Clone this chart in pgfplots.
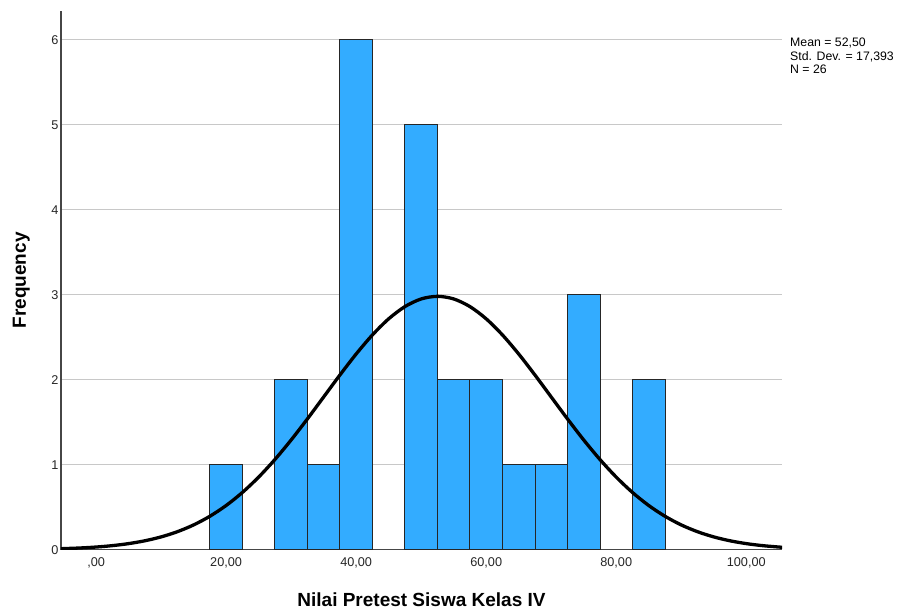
\documentclass[border=0pt]{standalone}
\usepackage{pgfplots}
\pgfplotsset{compat=1.18}
\usepackage{fontspec}
\setmainfont{Liberation Sans}
\definecolor{barblue}{RGB}{51,172,255}
\definecolor{gridgray}{RGB}{200,200,200}
\definecolor{axgray}{RGB}{70,70,70}
\begin{document}
\begin{tikzpicture}
\begin{axis}[
  at={(0,0)}, anchor=south west,
  scale only axis,
  width=721pt, height=538.7pt,
  xmin=-5.4, xmax=105.5,
  ymin=0, ymax=6.34,
  axis lines*=left,
  axis line style={axgray, line width=1.2pt},
  xtick={0,20,40,60,80,100},
  xticklabels={{,00},{20,00},{40,00},{60,00},{80,00},{100,00}},
  ytick={0,1,2,3,4,5,6},
  yticklabels={0,1,2,3,4,5,6},
  major tick length=0pt,
  ymajorgrids,
  grid style={gridgray, line width=1pt},
  tick label style={font=\fontsize{12.7}{14}\selectfont, text=black!85},
  xticklabel style={yshift=-4pt},
  yticklabel style={xshift=1pt},
  xlabel={\textbf{Nilai Pretest Siswa Kelas IV}},
  ylabel={\textbf{Frequency}},
  label style={font=\fontsize{19}{22}\selectfont},
  xlabel style={at={(axis description cs:0.5,0)}, anchor=base, yshift=-57pt},
  ylabel style={at={(axis description cs:0,0.5)}, anchor=base, rotate=0, yshift=35pt},
  clip mode=individual,
]
\addplot[ybar, bar width=5, bar shift=0pt, fill=barblue, draw=black!85, line width=0.9pt]
coordinates {(20,1) (30,2) (35,1) (40,6) (50,5) (55,2) (60,2) (65,1) (70,1) (75,3) (85,2)};
\addplot[black, line width=3.3pt, smooth, no markers, line cap=round, line join=round] coordinates {
(-5.5,0.01147) (-2.5,0.02009) (0,0.03132) (2.5,0.04785) (5,0.0716) (7.5,0.10494)
(10,0.1506) (12.5,0.2118) (15,0.2917) (17.5,0.3936) (20,0.5202) (22.5,0.6737)
(25,0.8544) (27.5,1.0613) (30,1.2915) (32.5,1.5394) (35,1.7975) (37.5,2.0558)
(40,2.3032) (42.5,2.5275) (45,2.7171) (47.5,2.8611) (50,2.9512) (52.5,2.9818)
(55,2.9512) (57.5,2.8611) (60,2.7171) (62.5,2.5275) (65,2.3032) (67.5,2.0558)
(70,1.7975) (72.5,1.5394) (75,1.2915) (77.5,1.0613) (80,0.8544) (82.5,0.6737)
(85,0.5202) (87.5,0.3936) (90,0.2917) (92.5,0.2118) (95,0.1506) (97.5,0.10494)
(100,0.0716) (102.5,0.04785) (105,0.03132) (105.5,0.02871)};
\node[anchor=north west, align=left, inner sep=0pt, font=\fontsize{12.3}{13.5}\selectfont]
  at (rel axis cs:1,1) [xshift=8pt, yshift=-27pt] {Mean = 52,50\\Std. Dev. = 17,393\\N = 26};
\end{axis}
\pgfresetboundingbox
\useasboundingbox (-61pt,-62.3pt) rectangle (843pt,549.7pt);
\end{tikzpicture}
\end{document}
